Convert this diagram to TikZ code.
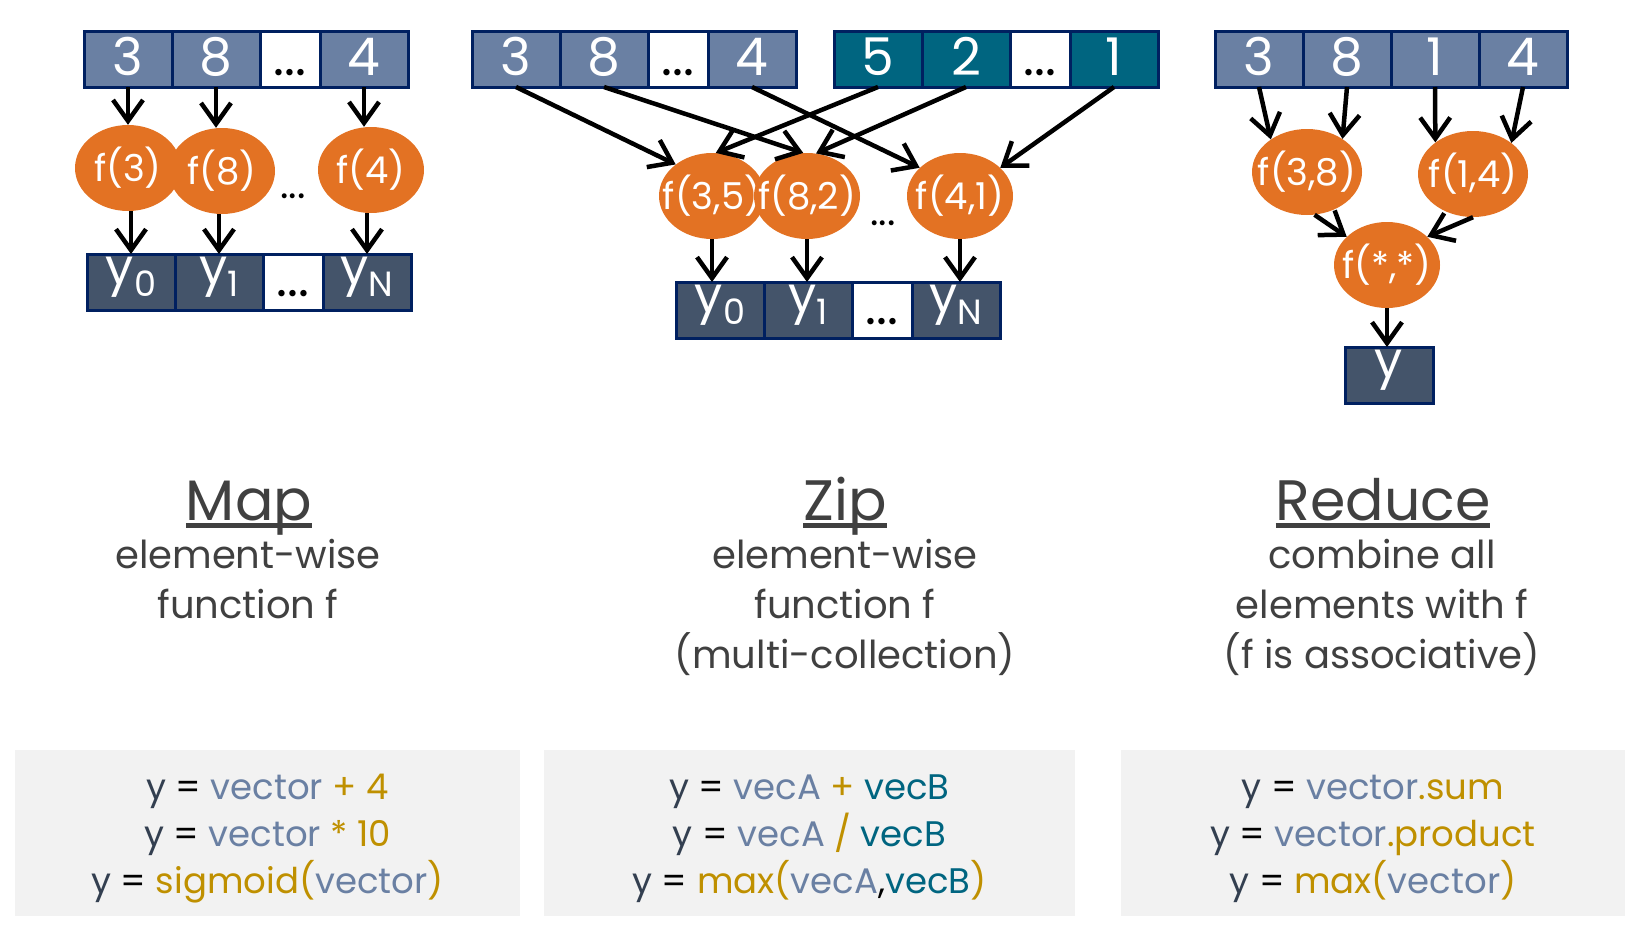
\documentclass[tikz,border=0pt]{standalone}
\usepackage{fontspec}
\setmainfont{Poppins}
\usetikzlibrary{shapes.geometric,arrows.meta}

\definecolor{InputColor}{RGB}{106,128,163}
\definecolor{SecondColor}{RGB}{0,101,128}
\definecolor{OutputColor}{RGB}{68,84,106}
\definecolor{BorderColor}{RGB}{0,32,96}
\definecolor{FuncColor}{RGB}{227,114,35}
\definecolor{GoldColor}{RGB}{191,144,0}
\definecolor{BoxColor}{RGB}{242,242,242}
\definecolor{TitleColor}{RGB}{64,64,64}
\definecolor{YColor}{RGB}{51,63,80}

\tikzstyle{cell-base}=[rectangle,
                       draw=BorderColor,
                       line width=3pt,
                       outer sep=0pt,
                       inner sep=0pt,
                       minimum height=56pt,
                       text=white,
                       font=\fontsize{52}{56}\selectfont,
                       text height=36pt,
                       text depth=4pt
                      ]
\tikzstyle{incell}=[cell-base, fill=InputColor, minimum width=88pt]
\tikzstyle{seccell}=[cell-base, fill=SecondColor, minimum width=88pt]
\tikzstyle{dotcell}=[cell-base, fill=white, text=black, minimum width=60pt]
\tikzstyle{outcell}=[cell-base, fill=OutputColor, minimum width=88pt,
                     font=\fontsize{50}{52}\selectfont, text height=26pt, text depth=22pt]
\tikzstyle{outdots}=[dotcell, text height=26pt, text depth=22pt]
\tikzstyle{func}=[ellipse, fill=FuncColor, minimum width=106pt, minimum height=86pt,
                  inner sep=0pt, text=white, font=\fontsize{37}{40}\selectfont]
\tikzstyle{gap}=[text=black, font=\fontsize{40}{42}\selectfont]
\tikzstyle{flow}=[line width=4.5pt, -{Straight Barb[length=21pt,width=30pt]}]
\tikzstyle{title}=[anchor=base, text=TitleColor, font=\fontsize{57}{60}\selectfont]
\tikzstyle{caption}=[anchor=base, text=TitleColor, align=center,
                     font=\fontsize{38.5}{50}\selectfont]
\tikzstyle{codebox}=[rectangle, fill=BoxColor, minimum height=166pt, align=center,
                     font=\fontsize{35.5}{47}\selectfont]

\newcommand{\ftxt}[1]{\makebox[0pt]{#1}}
\newcommand{\ysub}[1]{\raisebox{-12pt}{\fontsize{35}{35}\selectfont #1}}
\newcommand{\titleul}[1]{\setbox0\hbox{#1}\rlap{\rule[-8pt]{\wd0}{5pt}}\box0}
\newcommand{\yeq}{\rule{0pt}{37pt}\textcolor{YColor}{y} =}
\newcommand{\gold}[1]{\textcolor{GoldColor}{#1}}
\newcommand{\slate}[1]{\textcolor{InputColor}{#1}}
\newcommand{\teal}[1]{\textcolor{SecondColor}{#1}}

\begin{document}
\begin{tikzpicture}[x=1pt, y=-1pt]
\useasboundingbox (0,0) rectangle (1638,937);

% map
\node at (128, 59) (m1) [incell]  {3};
\node at (216, 59) (m2) [incell]  {8};
\node at (290, 59) (m3) [dotcell] {...};
\node at (364, 59) (m4) [incell]  {4};

\node at (128, 168) (fm1) [func] {\ftxt{f(3)}};
\node at (222, 171) (fm2) [func] {\ftxt{f(8)}};
\node at (293, 196) (fmdots) [gap] {...};
\node at (371, 170) (fm4) [func] {\ftxt{f(4)}};

\node at (131, 282) (ym1) [outcell] {y\ysub{0}};
\node at (219, 282) (ym2) [outcell] {y\ysub{1}};
\node at (293, 282) (ym3) [outdots] {\raisebox{-12pt}{...}};
\node at (367, 282) (ym4) [outcell] {y\ysub{N}};

\draw[flow] (m1.south) -- (fm1.north);
\draw[flow] (m2.south) -- (m2.south |- fm2.north);
\draw[flow] (m4.south) -- (m4.south |- fm4.north);
\draw[flow] (ym1.north |- fm1.south) -- (ym1.north);
\draw[flow] (ym2.north |- fm2.south) -- (ym2.north);
\draw[flow] (ym4.north |- fm4.south) -- (ym4.north);

% zip
\node at (516, 59) (za1) [incell]  {3};
\node at (604, 59) (za2) [incell]  {8};
\node at (678, 59) (za3) [dotcell] {...};
\node at (752, 59) (za4) [incell]  {4};
\node at (878, 59) (zb1) [seccell] {5};
\node at (966, 59) (zb2) [seccell] {2};
\node at (1040, 59) (zb3) [dotcell] {...};
\node at (1114, 59) (zb4) [seccell] {1};

\node at (712, 196) (f35) [func] {\ftxt{f(3,5)}};
\node at (807, 196) (f82) [func] {\ftxt{f(8,2)}};
\node at (883, 223) (fzdots) [gap] {...};
\node at (960, 196) (f41) [func] {\ftxt{f(4,1)}};

\node at (720, 310) (yz1) [outcell] {y\ysub{0}};
\node at (808, 310) (yz2) [outcell] {y\ysub{1}};
\node at (882, 310) (yz3) [outdots] {\raisebox{-12pt}{...}};
\node at (956, 310) (yz4) [outcell] {y\ysub{N}};

\draw[flow] (za1.south) -- (f35.139);
\draw[flow] (za2.south) -- (f82.95);
\draw[flow] (za4.south) -- (f41.145);
\draw[flow] (zb1.south) -- (f35.85);
\draw[flow] (zb2.south) -- (f82.78);
\draw[flow] (zb4.south) -- (f41.35);
\draw[flow] (f35.south) -- (f35.south |- yz1.north);
\draw[flow] (f82.south) -- (f82.south |- yz2.north);
\draw[flow] (f41.south) -- (f41.south |- yz4.north);

% reduce
\node at (1259, 59) (r1) [incell] {3};
\node at (1347, 59) (r2) [incell] {8};
\node at (1435, 59) (r3) [incell] {1};
\node at (1523, 59) (r4) [incell] {4};

\node at (1307, 172) (f38) [func, minimum width=110pt] {\ftxt{f(3,8)}};
\node at (1473, 174) (f14) [func, minimum width=110pt] {\ftxt{f(1,4)}};
\node at (1387, 265) (fss) [func] {\ftxt{f(*,*)}};

\node at (1389, 375) (yr) [outcell] {y};

\draw[flow] (r1.south) -- (f38.138);
\draw[flow] (r2.south) -- (f38.43);
\draw[flow] (r3.south) -- (f14.140);
\draw[flow] (r4.south) -- (f14.39);
\draw[flow] (f38.-80) -- (fss.145);
\draw[flow] (f14.south) -- (fss.35);
\draw[flow] (fss.south) -- (fss.south |- yr.north);

% captions
\node at (249, 520) (maptitle) [title] {\titleul{Map}};
\node at (845, 520) (ziptitle) [title] {\titleul{Zip}};
\node at (1383, 520) (redtitle) [title] {\titleul{Reduce}};

\node at (248, 618) (mapcap) [caption] {element-wise\\function f};
\node at (845, 668) (zipcap) [caption] {element-wise\\function f\\(multi-collection)};
\node at (1382, 668) (redcap) [caption] {combine all\\elements with f\\(f is associative)};

\node at (267.5, 833) (mapcode) [codebox, minimum width=505pt]
  {\yeq{} \slate{vector} \gold{+ 4}\\
   \yeq{} \slate{vector} \gold{* 10}\\
   \yeq{} \gold{sigmoid(}\slate{vector}\gold{)}};
\node at (809.5, 833) (zipcode) [codebox, minimum width=531pt]
  {\yeq{} \slate{vecA} \gold{+} \teal{vecB}\\
   \yeq{} \slate{vecA} \gold{/} \teal{vecB}\\
   \yeq{} \gold{max(}\slate{vecA},\teal{vecB}\gold{)}};
\node at (1373, 833) (redcode) [codebox, minimum width=504pt]
  {\yeq{} \slate{vector}\gold{.sum}\\
   \yeq{} \slate{vector}\gold{.product}\\
   \yeq{} \gold{max(}\slate{vector}\gold{)}};

\end{tikzpicture}
\end{document}
